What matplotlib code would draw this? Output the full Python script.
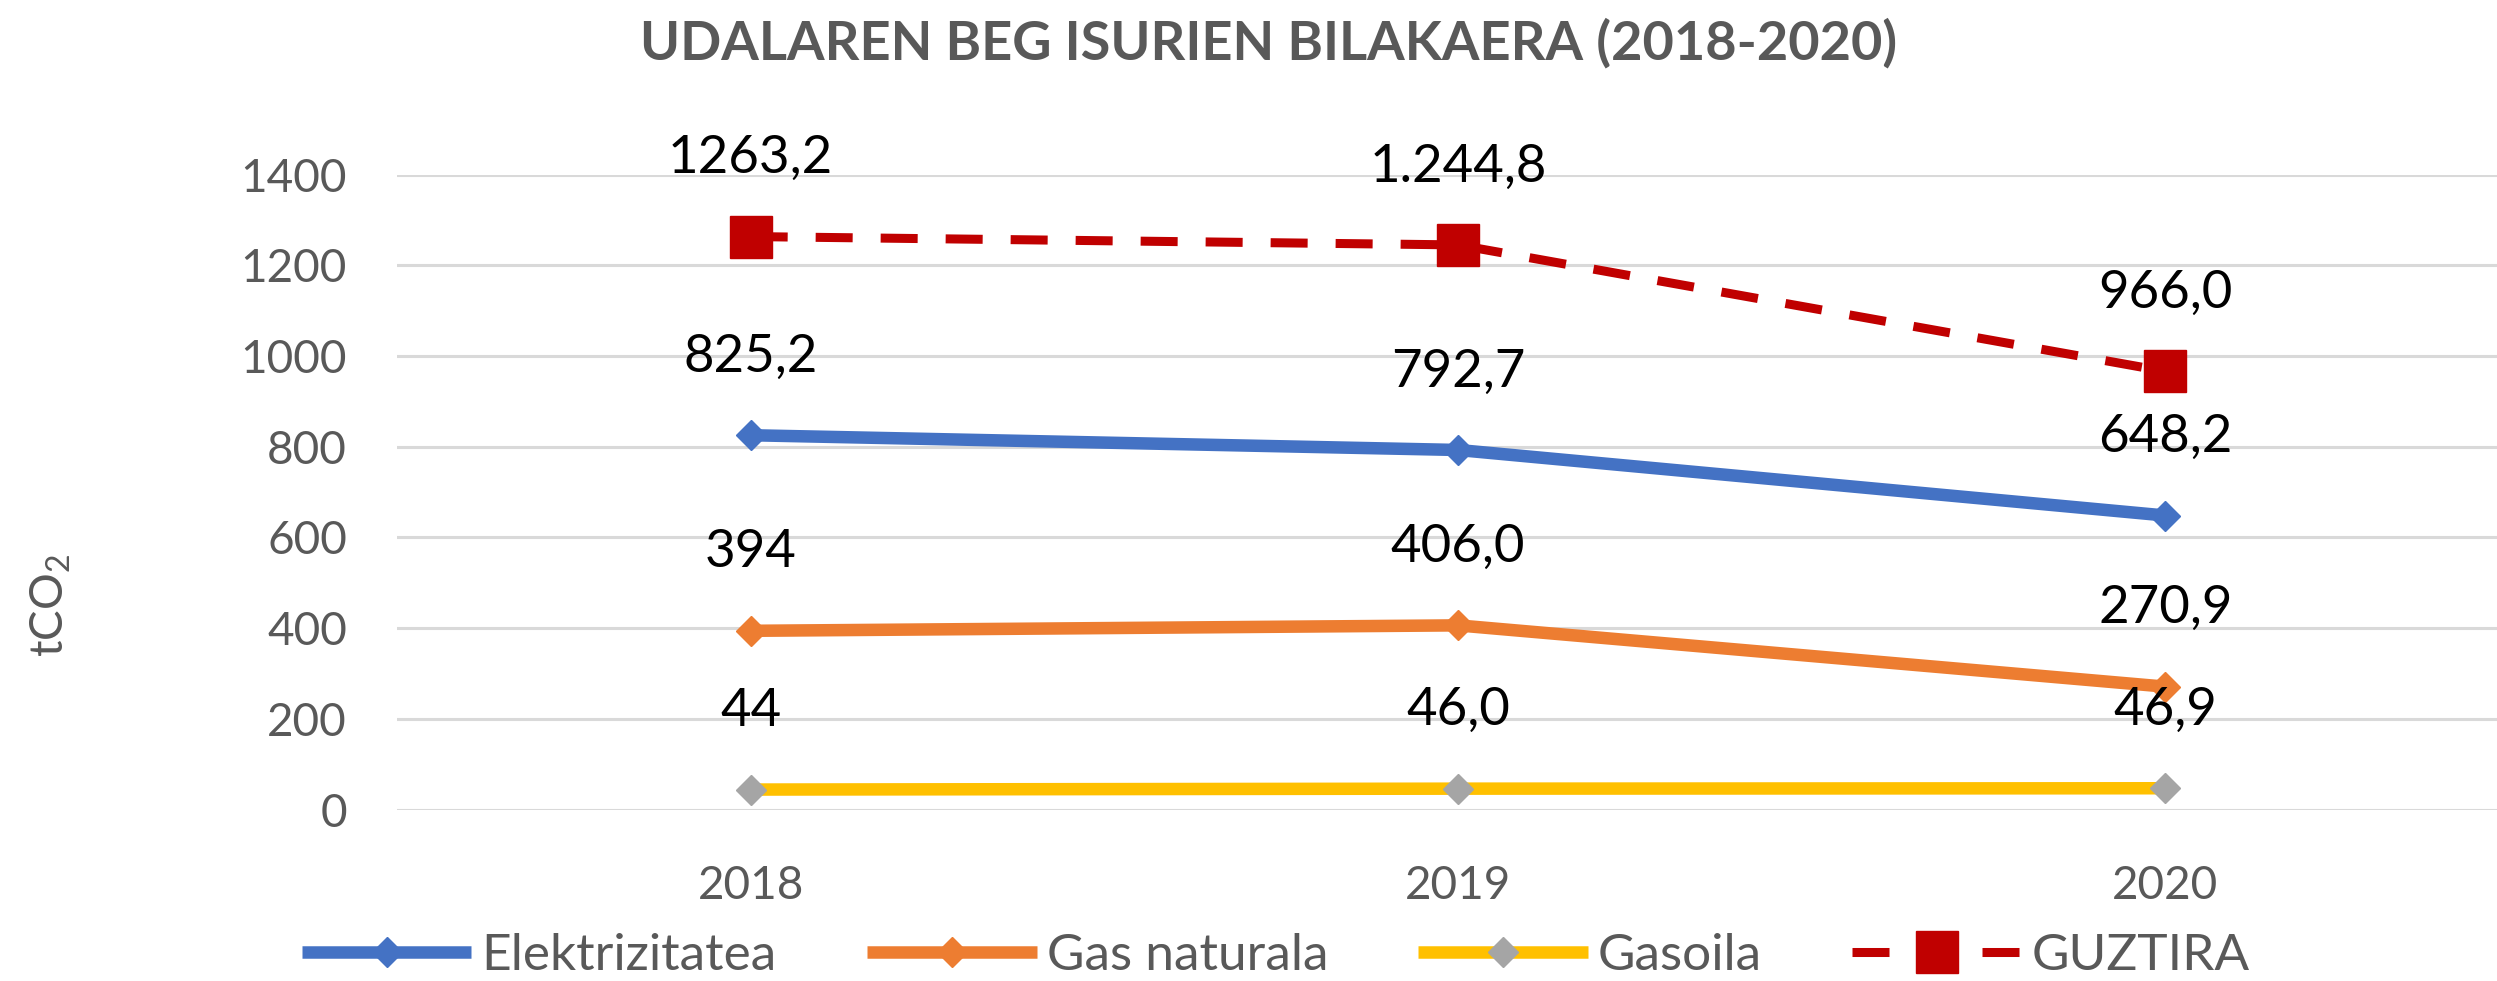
import matplotlib.pyplot as plt

plt.rcParams['font.family'] = ['Lato', 'DejaVu Sans']

# Datuak
years = ['2018', '2019', '2020']
elektrizitatea = [825.2, 792.7, 648.2]
gas_naturala = [394.0, 406.0, 270.9]
gasoila = [44.0, 46.0, 46.9]
guztira = [1263.2, 1244.8, 966.0]

# Etiketak (irudian agertzen diren bezala)
lbl_elek = ['825,2', '792,7', '648,2']
lbl_gas = ['394', '406,0', '270,9']
lbl_gasoila = ['44', '46,0', '46,9']
lbl_guztira = ['1263,2', '1.244,8', '966,0']

series = [
    ('Elektrizitatea', elektrizitatea, lbl_elek, '#4472C4', '#4472C4'),
    ('Gas naturala', gas_naturala, lbl_gas, '#ED7D31', '#ED7D31'),
    ('Gasoila', gasoila, lbl_gasoila, '#FFC000', '#A5A5A5'),
]

grey = '#595959'
fig = plt.figure(figsize=(24.97, 9.81), dpi=100)
ax = fig.add_axes([397 / 2497, 0.1748, (2519 - 397) / 2497, 0.8221 - 0.1748])

x = range(len(years))
for name, vals, labels, lc, mc in series:
    ax.plot(x, vals, color=lc, lw=9, marker='D', ms=15,
            markerfacecolor=mc, markeredgecolor=mc, label=name,
            solid_capstyle='butt', zorder=3)
    for xi, v, t in zip(x, vals, labels):
        ax.annotate(t, (xi, v), xytext=(0, 78), textcoords='offset pixels',
                    ha='center', va='center', fontsize=38, color='black')

ax.plot(x, guztira, color='#C00000', lw=6.5, ls=(0, (4.1, 3.1)), marker='s',
        ms=30, markerfacecolor='#C00000', markeredgecolor='#C00000',
        label='GUZTIRA', zorder=4)
for xi, v, t in zip(x, guztira, lbl_guztira):
    ax.annotate(t, (xi, v), xytext=(0, 78), textcoords='offset pixels',
                ha='center', va='center', fontsize=38, color='black')

ax.set_xlim(-0.5, 2.5)
ax.set_ylim(0, 1400)
ax.set_yticks(range(0, 1401, 200))
ax.set_xticks(list(x))
ax.set_xticklabels(years)
ax.grid(axis='y', color='#D9D9D9', lw=2.2)
ax.set_axisbelow(True)
for s in ax.spines.values():
    s.set_visible(False)
ax.tick_params(axis='both', length=0, labelsize=33, labelcolor=grey)
ax.tick_params(axis='y', pad=36)
ax.tick_params(axis='x', pad=40)

fig.text(51 / 2497, 1 - 605 / 981, 'tCO$_\\mathregular{2}$', rotation=90,
         ha='center', va='center', fontsize=33, color=grey)
fig.text(1269 / 2497, 1 - 43 / 981, 'UDALAREN BEG ISURIEN BILAKAERA (2018-2020)',
         ha='center', va='center', fontsize=39, fontweight='bold', color=grey)

# leyenda abajo, un poco subida para que el texto no se corte
leg = fig.legend(loc='lower center', bbox_to_anchor=(1276 / 2497, 2 / 981), ncol=4,
                 frameon=False, fontsize=37, handlelength=3.3, handletextpad=0.2,
                 columnspacing=1.75, borderpad=0, borderaxespad=0)
for t in leg.get_texts():
    t.set_color(grey)

plt.savefig('out.png', dpi=100)
